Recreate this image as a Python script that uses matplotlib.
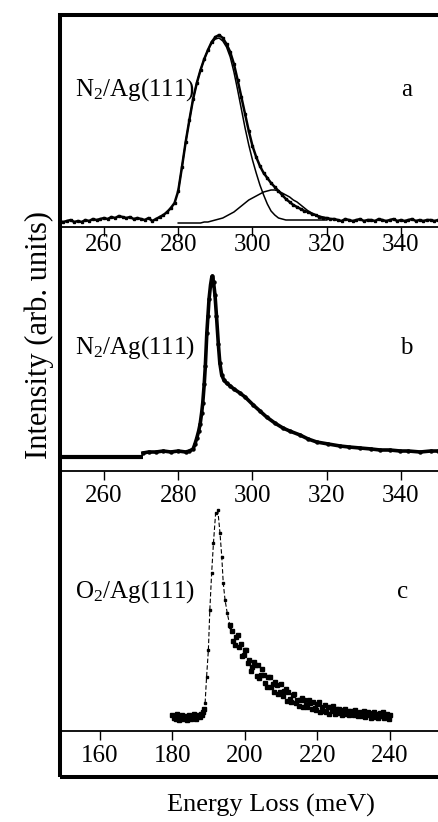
import matplotlib
matplotlib.use("Agg")
import matplotlib.pyplot as plt
from matplotlib.patches import Rectangle

plt.rcParams["font.family"] = ["Liberation Serif", "DejaVu Serif"]
plt.rcParams["mathtext.fontset"] = "custom"
plt.rcParams["mathtext.rm"] = "Liberation Serif"
plt.rcParams["mathtext.it"] = "Liberation Serif:italic"

# ── Panel a: N2/Ag(111), data + two fitted components ─────────────────────────
a_e = [248, 249, 250, 251, 252, 253, 254, 255, 256, 257, 258, 259, 260, 261,
       262, 263, 264, 265, 266, 267, 268, 269, 270, 271, 272, 273, 274, 275,
       276, 277, 278, 279, 280, 281, 282, 283, 284, 285, 286, 287, 288, 289,
       290, 291, 292, 293, 294, 295, 296, 297, 298, 299, 300, 301, 302, 303,
       304, 305, 306, 307, 308, 309, 310, 311, 312, 313, 314, 315, 316, 317,
       318, 319, 320, 321, 322, 323, 324, 325, 326, 327, 328, 329, 330, 331,
       332, 333, 334, 335, 336, 337, 338, 339, 340, 341, 342, 343, 344, 345,
       346, 347, 348, 349, 350]
a_int = [0.06, 0.05, 0.06, 0.07, 0.05, 0.06, 0.05, 0.07, 0.06, 0.08, 0.07, 0.08,
         0.09, 0.08, 0.10, 0.09, 0.11, 0.10, 0.09, 0.10, 0.08, 0.09, 0.08, 0.07,
         0.09, 0.06, 0.08, 0.10, 0.12, 0.15, 0.19, 0.24, 0.36, 0.60, 0.85, 1.07,
         1.28, 1.44, 1.57, 1.68, 1.77, 1.85, 1.90, 1.92, 1.89, 1.83, 1.75, 1.63,
         1.47, 1.30, 1.13, 0.96, 0.81, 0.70, 0.61, 0.54, 0.49, 0.44, 0.40, 0.36,
         0.32, 0.28, 0.25, 0.22, 0.20, 0.18, 0.16, 0.15, 0.13, 0.12, 0.10, 0.09,
         0.09, 0.08, 0.08, 0.07, 0.06, 0.08, 0.07, 0.06, 0.07, 0.08, 0.06, 0.07,
         0.07, 0.06, 0.08, 0.07, 0.06, 0.07, 0.08, 0.06, 0.07, 0.06, 0.07, 0.08,
         0.06, 0.07, 0.06, 0.07, 0.07, 0.06, 0.07]

fit_e = [280, 281, 282, 283, 284, 285, 286, 287, 288, 289, 290, 291, 292, 293,
         294, 295, 296, 297, 298, 299, 300, 301, 302, 303, 304, 305, 306, 307,
         308, 309, 310, 311, 312, 313, 314, 315, 316, 317, 318, 319, 320]
fit_main = [0.36, 0.60, 0.85, 1.07, 1.28, 1.44, 1.57, 1.68, 1.77, 1.84, 1.88,
            1.89, 1.86, 1.80, 1.70, 1.55, 1.37, 1.18, 0.99, 0.82, 0.67, 0.54,
            0.42, 0.32, 0.23, 0.16, 0.12, 0.09, 0.08, 0.07, 0.07, 0.07, 0.07,
            0.07, 0.07, 0.07, 0.07, 0.07, 0.07, 0.07, 0.07]
fit_side = [0.04, 0.04, 0.04, 0.04, 0.04, 0.04, 0.04, 0.05, 0.05, 0.06, 0.07,
            0.08, 0.09, 0.11, 0.13, 0.15, 0.18, 0.21, 0.24, 0.27, 0.29, 0.31,
            0.33, 0.35, 0.36, 0.37, 0.37, 0.36, 0.34, 0.32, 0.30, 0.27, 0.25,
            0.22, 0.19, 0.16, 0.14, 0.12, 0.11, 0.10, 0.09]

# ── Panel b: N2/Ag(111) ───────────────────────────────────────────────────────
b_flat_e = [248.3, 252, 256, 260, 264, 268, 270.5]
b_flat_int = [0.14, 0.14, 0.14, 0.14, 0.14, 0.14, 0.14]
b_e = [270.5, 272, 274, 276, 278, 280, 282, 283, 284, 284.5, 285, 285.5,
       285.9, 286.3, 286.6, 287.0, 287.3, 287.7, 288.0, 288.3, 288.7, 289.0,
       289.2, 289.5, 289.9, 290.3, 290.8, 291.2, 291.7, 292.3, 293, 294, 295,
       296.6, 298, 300.2, 302, 303.8, 306, 308.2, 310, 312.8, 315, 317.3,
       320.4, 323.6, 326, 329, 332, 334.4, 337, 339.8, 342, 345.2, 348, 350]
b_int = [0.18, 0.19, 0.19, 0.20, 0.19, 0.20, 0.19, 0.20, 0.22, 0.27, 0.33,
         0.40, 0.47, 0.58, 0.68, 0.87, 1.05, 1.38, 1.55, 1.72, 1.86, 1.93, 1.95,
         1.89, 1.76, 1.55, 1.27, 1.08, 0.96, 0.91, 0.88, 0.85, 0.82, 0.78, 0.74,
         0.66, 0.60, 0.54, 0.48, 0.43, 0.40, 0.36, 0.32, 0.29, 0.27, 0.25, 0.24,
         0.23, 0.22, 0.21, 0.21, 0.20, 0.20, 0.19, 0.20, 0.20]

# ── Panel c: O2/Ag(111) ───────────────────────────────────────────────────────
c_base_e = [180.0, 180.3, 180.6, 180.9, 181.2, 181.5, 181.8, 182.1, 182.4,
            182.7, 183.0, 183.3, 183.6, 183.9, 184.2, 184.5, 184.8, 185.1,
            185.4, 185.7, 186.0, 186.3, 186.6, 186.9, 187.2, 187.5, 187.8,
            188.1, 188.4, 188.7]
c_base_int = [0.16, 0.13, 0.15, 0.12, 0.17, 0.14, 0.11, 0.15, 0.13, 0.16,
              0.12, 0.14, 0.15, 0.11, 0.13, 0.16, 0.14, 0.12, 0.15, 0.13,
              0.17, 0.14, 0.12, 0.16, 0.15, 0.14, 0.17, 0.16, 0.19, 0.22]
c_peak_e = [189.0, 189.4, 189.9, 190.3, 190.8, 191.3, 191.9, 192.5, 193.1,
            193.6, 194.0, 194.5, 195.1, 195.9]
c_peak_int = [0.28, 0.54, 0.81, 1.21, 1.58, 1.88, 2.18, 2.21, 1.98, 1.74,
              1.48, 1.31, 1.18, 1.04]
c_tail_e = [196.0, 196.4, 196.8, 197.2, 197.6, 198.0, 198.4, 198.8, 199.2, 199.6,
            200.0, 200.4, 200.8, 201.2, 201.6, 202.0, 202.4, 202.8, 203.2, 203.6,
            204.0, 204.4, 204.8, 205.2, 205.6, 206.0, 206.4, 206.8, 207.2, 207.6,
            208.0, 208.4, 208.8, 209.2, 209.6, 210.0, 210.4, 210.8, 211.2, 211.6,
            212.0, 212.4, 212.8, 213.2, 213.6, 214.0, 214.4, 214.8, 215.2, 215.6,
            216.0, 216.4, 216.8, 217.2, 217.6, 218.0, 218.4, 218.8, 219.2, 219.6,
            220.0, 220.4, 220.8, 221.2, 221.6, 222.0, 222.4, 222.8, 223.2, 223.6,
            224.0, 224.4, 224.8, 225.2, 225.6, 226.0, 226.4, 226.8, 227.2, 227.6,
            228.0, 228.4, 228.8, 229.2, 229.6, 230.0, 230.4, 230.8, 231.2, 231.6,
            232.0, 232.4, 232.8, 233.2, 233.6, 234.0, 234.4, 234.8, 235.2, 235.6,
            236.0, 236.4, 236.8, 237.2, 237.6, 238.0, 238.4, 238.8, 239.2, 239.6,
            240.0]
c_tail_int = [1.06, 1.00, 0.90, 0.86, 0.94, 0.96, 0.84, 0.87, 0.75, 0.76,
              0.81, 0.81, 0.68, 0.71, 0.60, 0.64, 0.69, 0.66, 0.55, 0.66,
              0.53, 0.56, 0.62, 0.56, 0.48, 0.44, 0.54, 0.54, 0.44, 0.47,
              0.39, 0.49, 0.46, 0.37, 0.39, 0.47, 0.35, 0.40, 0.42, 0.30,
              0.39, 0.32, 0.29, 0.36, 0.37, 0.28, 0.31, 0.25, 0.31, 0.33,
              0.24, 0.31, 0.26, 0.24, 0.31, 0.28, 0.22, 0.29, 0.23, 0.21,
              0.27, 0.29, 0.19, 0.24, 0.20, 0.26, 0.19, 0.24, 0.17, 0.24,
              0.20, 0.25, 0.17, 0.22, 0.18, 0.22, 0.19, 0.16, 0.21, 0.22,
              0.17, 0.20, 0.16, 0.20, 0.19, 0.16, 0.21, 0.17, 0.15, 0.19,
              0.18, 0.15, 0.20, 0.14, 0.18, 0.19, 0.16, 0.13, 0.18, 0.19,
              0.14, 0.17, 0.13, 0.18, 0.15, 0.19, 0.13, 0.16, 0.17, 0.12,
              0.16]

ticks_ab = [260, 280, 300, 320, 340]
ticks_c = [160, 180, 200, 220, 240]

W, H = 439, 822
fig = plt.figure(figsize=(W / 100, H / 100), dpi=100)


def px_axes(left, top, bottom):
    return fig.add_axes([left / W, 1 - bottom / H, 1 - left / W, (bottom - top) / H])


def style(ax, xlim, ylim, ticks, pad):
    ax.set_xlim(*xlim)
    ax.set_ylim(*ylim)
    for side in ("top", "left", "right"):
        ax.spines[side].set_visible(False)
    ax.spines["bottom"].set_linewidth(1.3)
    ax.set_yticks([])
    ax.set_xticks(ticks)
    ax.tick_params(axis="x", direction="out", length=6.5, width=1.0,
                   labelsize=18, pad=pad)
    ax.patch.set_alpha(0)


ax_a = px_axes(60.3, 14.7, 227)
ax_b = px_axes(60.3, 262, 471)
ax_c = px_axes(60.3, 500, 731)

style(ax_a, (248.23, 350.24), (0, 2.123), ticks_ab, -1.5)
style(ax_b, (248.23, 350.24), (0, 2.09), ticks_ab, 3.5)
style(ax_c, (149.05, 253.52), (0, 2.31), ticks_c, 3.5)

# panel a
ax_a.plot(a_e, a_int, color="black", lw=1.8, marker="s", ms=1.6, zorder=3)
ax_a.plot(fit_e, fit_main, color="black", lw=1.1, zorder=2)
ax_a.plot(fit_e, fit_side, color="black", lw=1.1, zorder=2)
ax_a.text(252.2, 1.37, r"N$_2$/Ag(111)", fontsize=18, va="center", ha="left")
ax_a.text(341.6, 1.37, "a", fontsize=18, va="center", ha="center")

# panel b
ax_b.plot(b_flat_e, b_flat_int, color="black", lw=3.0, solid_capstyle="butt")
ax_b.plot(b_e, b_int, color="black", lw=2.6, marker="o", ms=2.2)
ax_b.text(252.2, 1.23, r"N$_2$/Ag(111)", fontsize=18, va="center", ha="left")
ax_b.text(341.5, 1.23, "b", fontsize=18, va="center", ha="center")

# panel c
ax_c.plot(c_base_e, c_base_int, ls="none", marker="s", ms=2.2, color="black")
ax_c.plot(c_peak_e, c_peak_int, color="black", lw=0.8, ls=(0, (4, 2)),
          marker="s", ms=2.0)
ax_c.plot(c_tail_e, c_tail_int, ls="none", marker="s", ms=2.2, color="black")
ax_c.text(153.1, 1.39, r"O$_2$/Ag(111)", fontsize=18, va="center", ha="left")
ax_c.text(243.6, 1.39, "c", fontsize=18, va="center", ha="center")

# outer frame
frame = Rectangle((60.3 / W, 1 - 777 / H), 1.2, (777 - 14.7) / H,
                  transform=fig.transFigure, fill=False, lw=2.9,
                  edgecolor="black", clip_on=False)
fig.patches.append(frame)

fig.text(271 / W, 1 - 805 / H, "Energy Loss (meV)", fontsize=19,
         ha="center", va="center")
fig.text(39.5 / W, 1 - 335 / H, "Intensity (arb. units)", fontsize=22,
         rotation=90, ha="center", va="center")

fig.savefig("out.png", dpi=100)
